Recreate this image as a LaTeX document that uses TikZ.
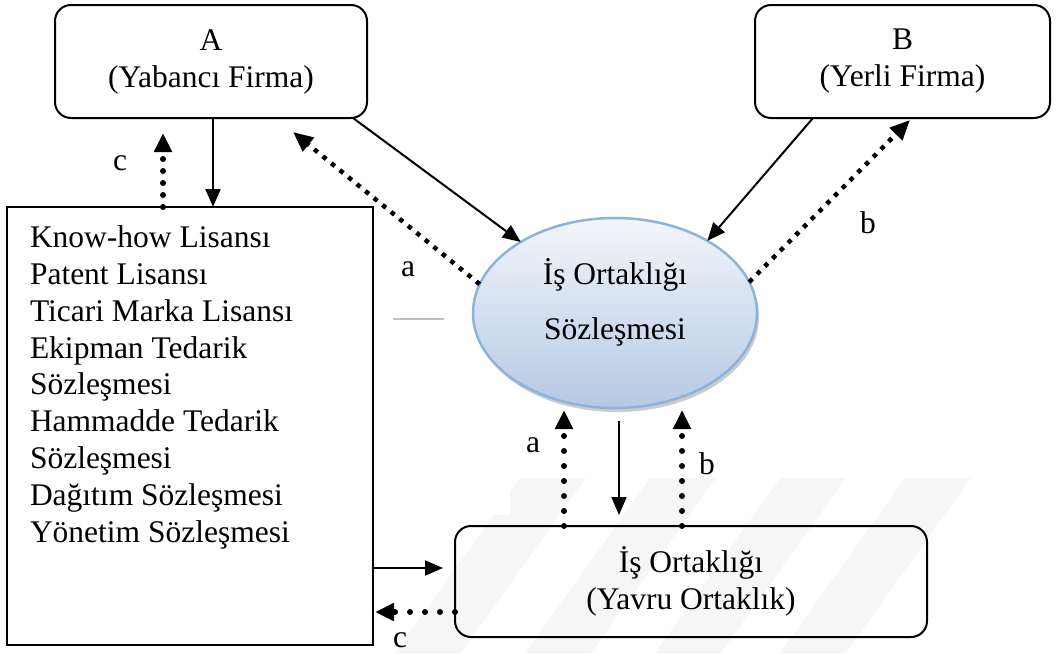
\documentclass[tikz,border=0pt]{standalone}
\usepackage{fontspec}
\setmainfont{Liberation Serif}
\usetikzlibrary{arrows.meta,shapes.geometric,shadows}
\definecolor{ellblue}{RGB}{141,178,222}
\definecolor{elltop}{RGB}{242,246,251}
\definecolor{ellbot}{RGB}{180,201,228}
\definecolor{markgray}{RGB}{246,246,246}
\begin{document}
\begin{tikzpicture}[x=1pt,y=-1pt,
  every node/.style={inner sep=0pt, outer sep=0pt, font=\fontsize{31.5}{37}\selectfont},
  firm/.style={draw, line width=2pt, rounded corners=16pt, align=center},
  plainbox/.style={draw, line width=2pt},
  contract/.style={ellipse, draw=ellblue, line width=2.5pt, top color=elltop, bottom color=ellbot,
    drop shadow={shadow xshift=2pt, shadow yshift=-4pt, fill=black!45, opacity=0.45}},
  flow/.style={line width=2pt, -{Triangle[length=18pt,width=15pt]}},
  dotflow/.style={line width=6pt, line cap=round, dash pattern=on 0pt off 15pt, -{Triangle[length=19pt,width=17pt]}},
  dotflowtight/.style={dotflow, dash pattern=on 0pt off 12pt},
  squareflow/.style={line width=4.5pt, dash pattern=on 4.5pt off 6.5pt, -{Triangle[length=20pt,width=17pt]}},
  lbl/.style={anchor=base}
]
\useasboundingbox (0,0) rectangle (1056,653);

% faint background stripes
\foreach \x in {520,650,780,905} {
  \fill[markgray] (\x,478) -- (\x+66,478) -- (\x+66-125,653) -- (\x-125,653) -- cycle;
}
\fill[white] (360,400) rectangle (510,515);

% boxes
\node[firm, minimum width=312pt, minimum height=113pt] (A) at (211,61.5) {A\\(Yabancı Firma)};
\node[firm, minimum width=295pt, minimum height=113pt] (B) at (902.5,61.5) {B\\(Yerli Firma)};
\node[plainbox, minimum width=366pt, minimum height=438pt] (L) at (190,426) {};
\node[anchor=north west, align=left, font=\fontsize{31.5}{36.9}\selectfont] (items) at (30,225.5)
  {Know-how Lisansı\\Patent Lisansı\\Ticari Marka Lisansı\\Ekipman Tedarik\\Sözleşmesi\\Hammadde Tedarik\\Sözleşmesi\\Dağıtım Sözleşmesi\\Yönetim Sözleşmesi};
\node[contract, minimum width=284pt, minimum height=190pt] (E) at (615,313) {};
\node[align=center, font=\fontsize{31.5}{55}\selectfont] (Etext) at (615,302) {İş Ortaklığı\\Sözleşmesi};
\node[firm, minimum width=472pt, minimum height=111pt] (J) at (691,581.5) {İş Ortaklığı\\(Yavru Ortaklık)};

% short rule left of the ellipse
\draw[black!25, line width=1.2pt] (393,319) -- (444,319);

% connectors
\draw[flow] ([xshift=2pt]A.south) -- ([xshift=2pt]A.south |- L.north);
\draw[dotflowtight] ([xshift=-27pt]L.north) -- ([xshift=-48pt,yshift=-15pt]A.south);
\draw[flow] ([xshift=-14pt]A.south east) -- (E.143);
\draw[squareflow] (E.168) -- ([xshift=-74pt,yshift=-14pt]A.south east);
\draw[flow] ([xshift=-89.5pt]B.south) -- (E.38);
\draw[squareflow] (E.13) -- ([xshift=-140pt,yshift=-2pt]B.south east);
\draw[flow] ([xshift=4pt,yshift=-13pt]E.south) -- ([xshift=-72pt,yshift=11pt]J.north);
\draw[dotflow] ([xshift=-127pt]J.north) -- ([xshift=-127pt,yshift=116pt]J.north);
\draw[dotflow] ([xshift=-9pt]J.north) -- ([xshift=-9pt,yshift=116pt]J.north);
\draw[flow] ([yshift=13.5pt]J.west -| L.east) -- ([xshift=-12pt,yshift=13.5pt]J.west);
\draw[dotflow] ([yshift=-30.5pt]J.west) -- ([xshift=2pt,yshift=-30.5pt]J.west -| L.east);

% connector labels
\node[lbl] (lc1) at (120,170.5) {c};
\node[lbl] (la1) at (408,276) {a};
\node[lbl] (lb1) at (868,233) {b};
\node[lbl] (la2) at (533,452.5) {a};
\node[lbl] (lb2) at (707,474) {b};
\node[lbl] (lc2) at (400,647.5) {c};
\end{tikzpicture}
\end{document}
